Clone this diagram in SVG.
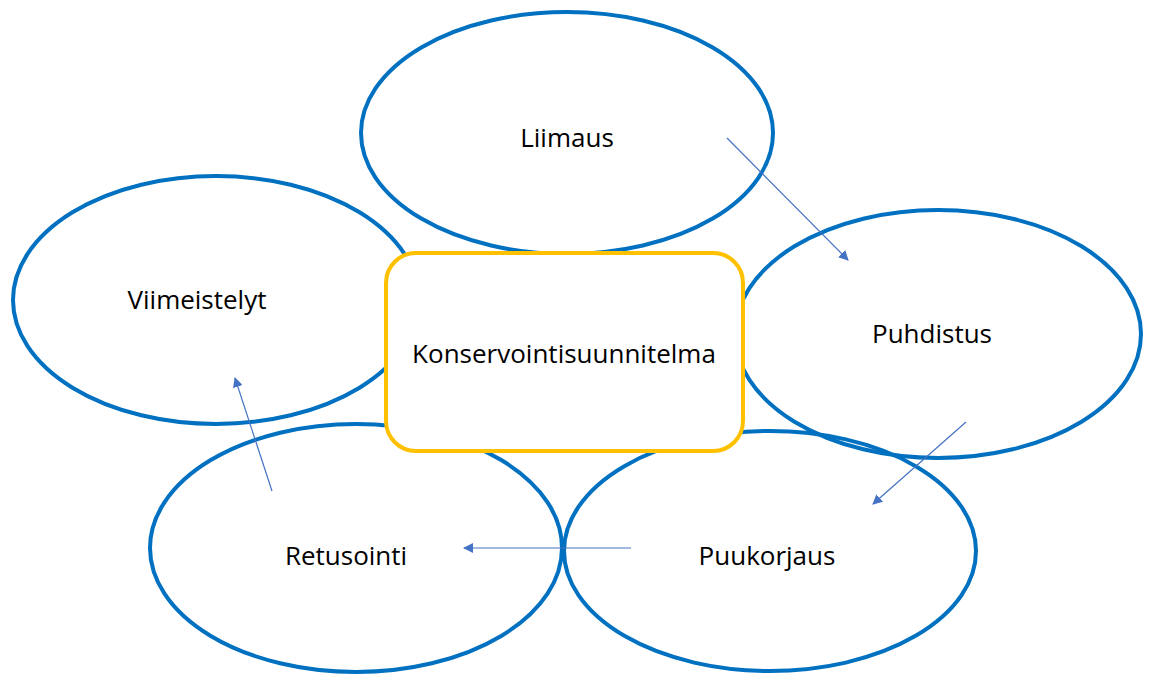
<svg xmlns="http://www.w3.org/2000/svg" width="1154" height="679" viewBox="0 0 1154 679">
<style>
.ell{fill:none;stroke:#0070C0;stroke-width:4}
.box{fill:#FFFFFF;stroke:#FFC000;stroke-width:4}
.lbl{font-family:"Open Sans","Liberation Sans",sans-serif;font-size:26px;fill:#000;text-anchor:middle}
.con{stroke:#4472C4;stroke-width:1.2;fill:none;marker-end:url(#ah)}
</style>
<defs>
<marker id="ah" viewBox="0 0 10 10" refX="9" refY="5" markerWidth="10" markerHeight="10" markerUnits="userSpaceOnUse" orient="auto">
<path d="M0,0 L10,5 L0,10 Z" fill="#4472C4"/>
</marker>
</defs>
<rect width="1154" height="679" fill="#FFFFFF"/>
<g id="liimaus"><ellipse class="ell" cx="567" cy="133" rx="206" ry="121"/><text class="lbl" x="567" y="147">Liimaus</text></g>
<g id="viimeistelyt"><ellipse class="ell" cx="216" cy="300" rx="203" ry="124"/><text class="lbl" x="197" y="309">Viimeistelyt</text></g>
<g id="puhdistus"><ellipse class="ell" cx="938" cy="334" rx="203" ry="124"/><text class="lbl" x="932" y="343">Puhdistus</text></g>
<g id="retusointi"><ellipse class="ell" cx="356" cy="548" rx="206" ry="124"/><text class="lbl" x="346" y="565">Retusointi</text></g>
<g id="puukorjaus"><ellipse class="ell" cx="770" cy="551" rx="206" ry="120"/><text class="lbl" x="767" y="565">Puukorjaus</text></g>
<g id="konservointisuunnitelma"><rect class="box" x="386" y="253" width="357" height="198" rx="30"/><text class="lbl" x="564" y="363">Konservointisuunnitelma</text></g>
<g id="connectors">
<line class="con" x1="727" y1="138" x2="848" y2="260"/>
<line class="con" x1="966" y1="422" x2="873" y2="504"/>
<line class="con" x1="631" y1="548" x2="464" y2="548"/>
<line class="con" x1="272" y1="491" x2="235" y2="378"/>
</g>
</svg>
